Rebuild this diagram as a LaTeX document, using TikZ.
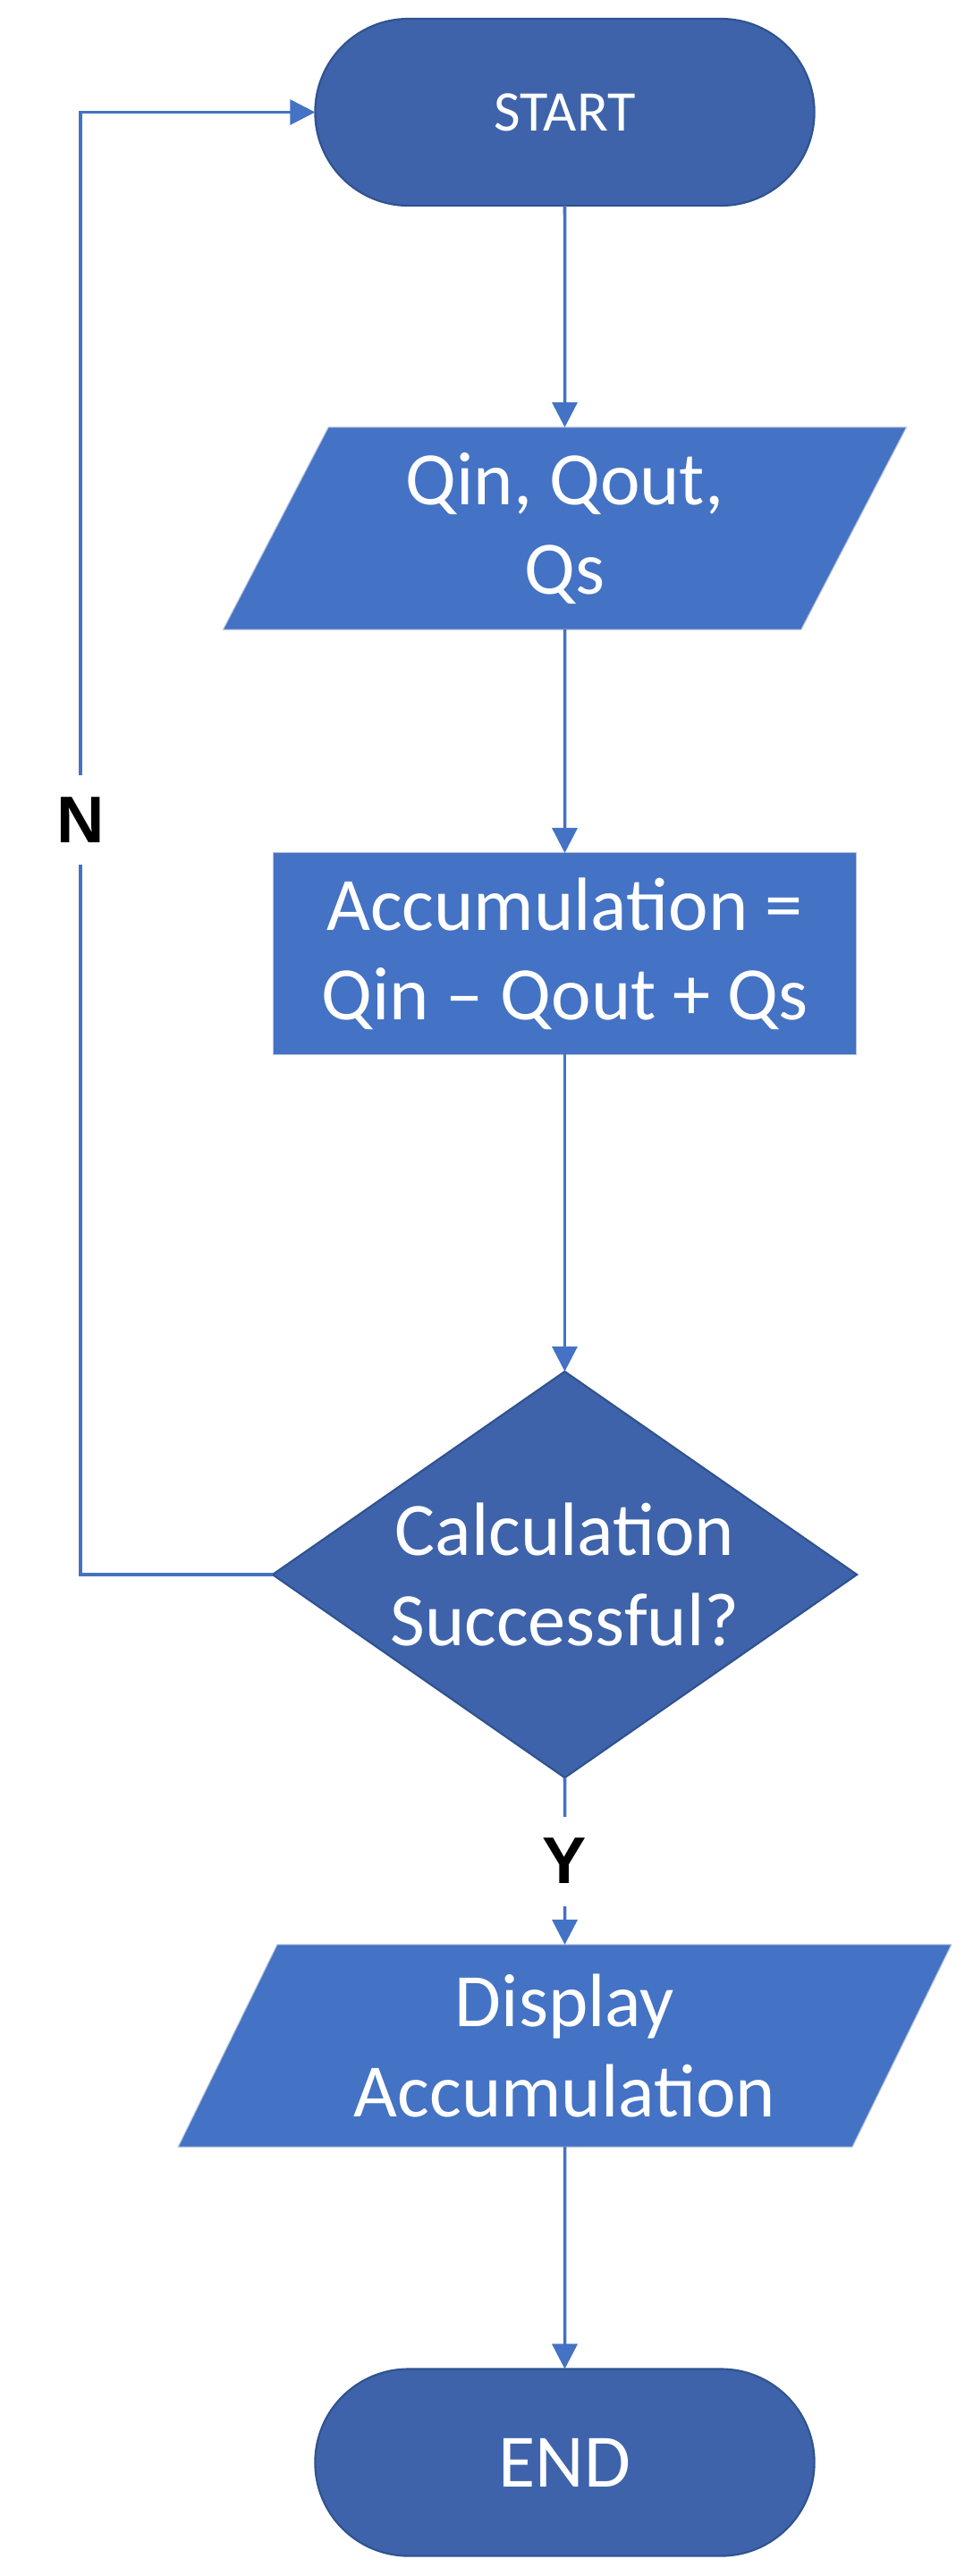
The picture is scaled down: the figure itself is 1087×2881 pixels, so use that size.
\documentclass[tikz,border=0pt]{standalone}
\usepackage{fontspec}
\setmainfont{Carlito}
\newfontfamily\ynfont{Liberation Sans}
\usetikzlibrary{shapes.geometric,shapes.misc,arrows.meta}
\definecolor{flowblue}{HTML}{4472C4}
\definecolor{termblue}{HTML}{3E63AA}
\definecolor{termline}{HTML}{2F528F}
\definecolor{boxline}{HTML}{B4C0D8}
\tikzset{
  term/.style={rounded rectangle, fill=termblue, draw=termline, line width=0.6pt,
    minimum width=5.58cm, minimum height=2.09cm, inner sep=0pt, outer sep=0pt,
    text=white, font=\fontsize{24}{28.45}\selectfont},
  io/.style={trapezium, trapezium left angle=55.2, trapezium right angle=124.8,
    trapezium stretches body=true, fill=flowblue, draw=boxline, line width=0.3pt,
    minimum width=7.635cm, minimum height=2.26cm, inner sep=0pt, outer sep=0pt,
    text=white, align=center, font=\fontsize{24}{28.45}\selectfont},
  proc/.style={rectangle, fill=flowblue, draw=boxline, line width=0.3pt,
    minimum width=6.52cm, minimum height=2.25cm, inner sep=0pt, outer sep=0pt,
    text=white, align=center, font=\fontsize{24}{28.45}\selectfont},
  test/.style={diamond, aspect=1.44, fill=termblue, draw=termline, line width=0.6pt,
    minimum width=6.53cm, minimum height=4.54cm, inner sep=0pt, outer sep=0pt,
    text=white, align=center, font=\fontsize{24}{28.45}\selectfont},
  flow/.style={draw=flowblue, line width=1pt, -{Triangle[length=0.28cm,width=0.28cm]}},
  yn/.style={fill=white, inner sep=0pt, minimum height=1cm,
    font=\ynfont\bfseries\fontsize{21}{21}\selectfont}
}
\begin{document}
\begin{tikzpicture}[x=0.01cm, y=-0.01cm]
  \useasboundingbox (0,0) rectangle (1087,2881);
  \node[term, font=\fontsize{18.3}{20}\selectfont] (start) at (631.5,125.5) {START};
  \node[io] (inp) at (631.5,591) {Qin, Qout,\\Qs};
  \node[proc] (acc) at (631.5,1066.5) {Accumulation =\\Qin – Qout + Qs};
  \node[test] (dec) at (631.5,1761) {Calculation\\Successful?};
  \node[io, minimum width=8.64cm] (disp) at (631.5,2288) {Display\\Accumulation};
  \node[term] (stop) at (631.5,2754) {END};
  \coordinate (back) at (90,1761);
  \draw [flow] (start.south) -- (inp.north);
  \draw [flow] (inp.south) -- (acc.north);
  \draw [flow] (acc.south) -- (dec.north);
  \draw [flow] (dec.west) -- (back) |- (start.west) node [yn, pos=0.258] {N};
  \draw [flow] (dec.south) -- (disp.north) node [yn, midway] {Y};
  \draw [flow] (disp.south) -- (stop.north);
\end{tikzpicture}
\end{document}
